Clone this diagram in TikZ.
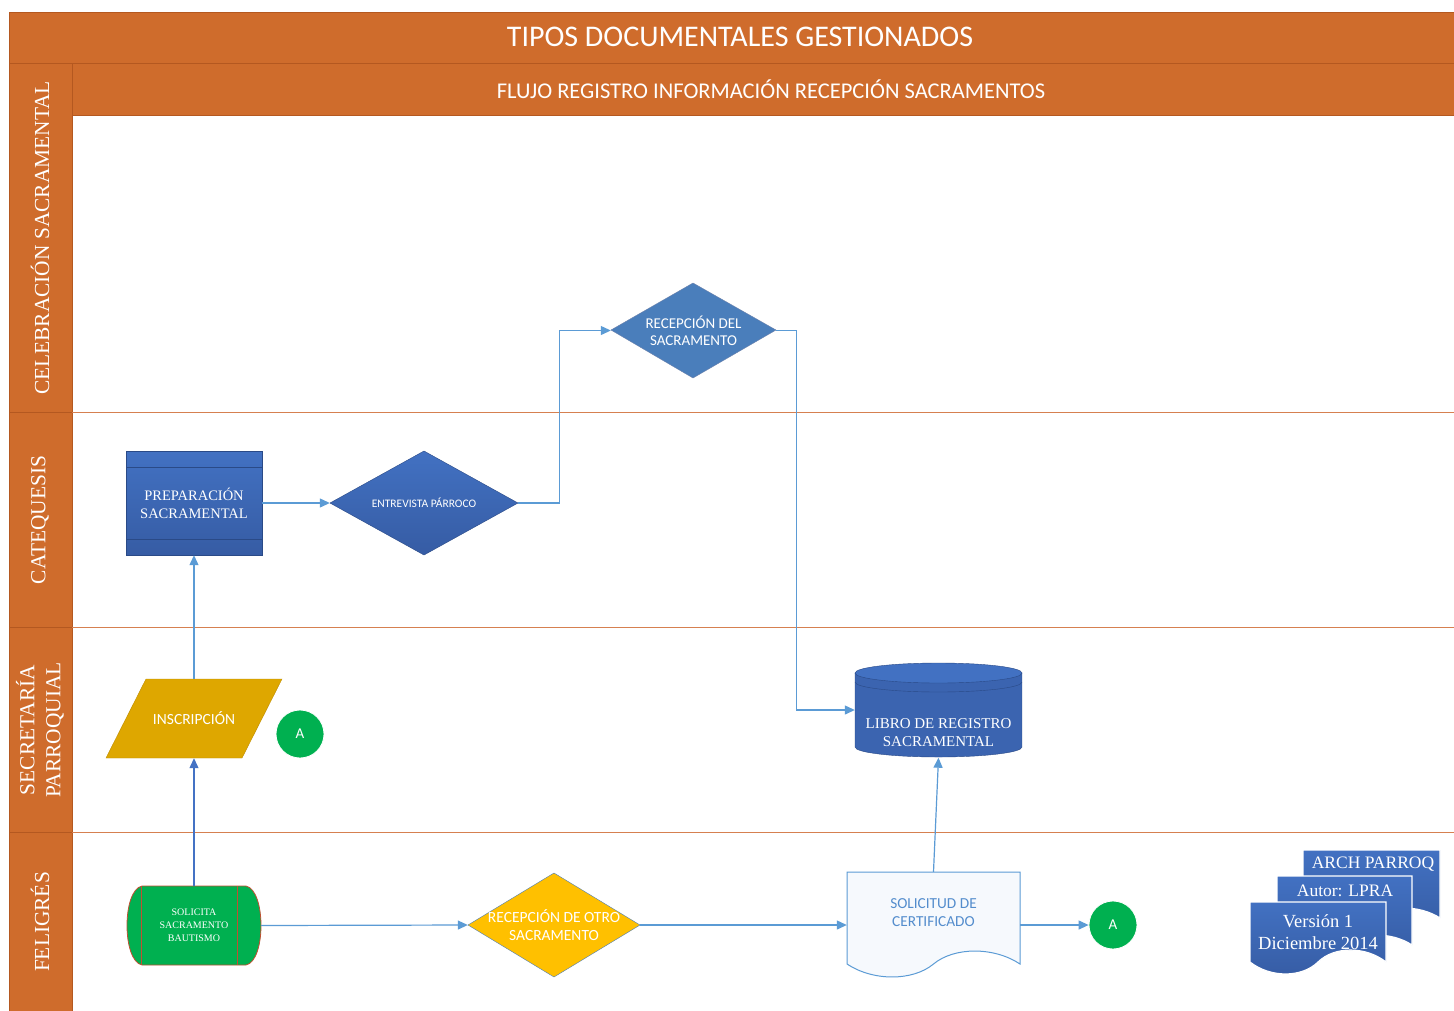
\documentclass[tikz,border=0pt]{standalone}
\usepackage{fontspec}
\setmainfont{Liberation Serif}
\setsansfont{Carlito}
\usetikzlibrary{shapes.geometric, arrows.meta}

\definecolor{naranja}{RGB}{207,108,44}
\definecolor{naranjaosc}{RGB}{180,88,32}
\definecolor{lineacarril}{RGB}{214,128,80}
\definecolor{azulproc}{RGB}{59,100,176}
\definecolor{azulsup}{RGB}{66,113,194}
\definecolor{azulinf}{RGB}{54,92,164}
\definecolor{azulborde}{RGB}{42,74,135}
\definecolor{azulacero}{RGB}{74,126,187}
\definecolor{azulclaro}{RGB}{91,155,213}
\definecolor{azuloscuro}{RGB}{68,114,196}
\definecolor{oro}{RGB}{222,167,0}
\definecolor{oroborde}{RGB}{190,140,0}
\definecolor{amarillo}{RGB}{255,192,0}
\definecolor{verde}{RGB}{0,176,80}
\definecolor{ladrillo}{RGB}{192,80,50}
\definecolor{papel}{RGB}{246,249,253}
\definecolor{textodoc}{RGB}{84,141,205}

\tikzstyle{caja}=[rectangle, inner sep=0, align=center, text=white]
\tikzstyle{titulo}=[text=white, font=\sffamily\fontsize{30}{34}\selectfont]
\tikzstyle{subtitulo}=[text=white, font=\sffamily\fontsize{22.5}{26}\selectfont]
\tikzstyle{carril}=[rotate=90, text=white, align=center, font=\fontsize{21.4}{26}\selectfont]
\tikzstyle{conector}=[circle, minimum size=48pt, inner sep=0, fill=verde, draw=white, thick, text=white, font=\sffamily\fontsize{15}{17}\selectfont]
\tikzstyle{flecha}=[line width=1.2pt, draw=azulclaro, -{Triangle[length=10pt,width=9pt]}]
\tikzstyle{hoja}=[top color=azulsup, bottom color=azulinf, draw=white, line width=1.2pt]
\tikzstyle{azulado}=[top color=azulsup, bottom color=azulinf, draw=azulborde]

% document shape: x0, x1, top, base, amplitude
\newcommand{\hoja}[5]{(#1,#3) -- (#2,#3) -- (#2,#4)
  .. controls ({#2-0.15*(#2-#1)},{#4-1.33*#5}) and ({#1+0.62*(#2-#1)},{#4-1.33*#5}) .. ({(#1+#2)/2},#4)
  .. controls ({#1+0.38*(#2-#1)},{#4+1.33*#5}) and ({#1+0.15*(#2-#1)},{#4+1.33*#5}) .. (#1,#4) -- cycle}

\begin{document}
\begin{tikzpicture}[x=1pt,y=-1pt]
\useasboundingbox (0,0) rectangle (1454,1010);
\fill[white] (0,0) rectangle (1454,1010);

% bands and lanes
\draw[fill=naranja, draw=naranjaosc] (9,12) rectangle (1470,63);
\draw[fill=naranja, draw=naranjaosc] (72,63) rectangle (1470,115);
\draw[fill=naranja, draw=naranjaosc] (9,63) rectangle (72,1020);
\foreach \y in {412,627,832}{
  \draw[lineacarril, line width=1pt] (72,\y) -- (1454,\y);
  \draw[naranjaosc, line width=1pt] (9,\y) -- (72,\y);
}

\node[titulo] (titulo) at (740,37) {TIPOS DOCUMENTALES GESTIONADOS};
\node[subtitulo] (subtitulo) at (771,89) {FLUJO REGISTRO INFORMACIÓN RECEPCIÓN SACRAMENTOS};

\node[carril] (celebracion) at (40,238) {CELEBRACIÓN SACRAMENTAL};
\node[carril] (catequesis) at (40,520) {CATEQUESIS};
\node[carril] (secretaria) at (40,730) {SECRETARÍA\\PARROQUIAL};
\node[carril] (feligres) at (40,922) {FELIGRÉS};

% shapes
\draw[azulado] (126,451) rectangle (262,555);
\draw[azulborde] (126,467) -- (262,467) (126,539) -- (262,539);
\draw[azulado] (330,503) -- (424,451) -- (518,503) -- (424,555) -- cycle;
\draw[fill=azulacero, draw=azulborde!70] (611,330) -- (693,283) -- (776,330) -- (693,378) -- cycle;
\draw[fill=oro, draw=oroborde] (106,758) -- (146,679) -- (282,679) -- (242,758) -- cycle;
\draw[fill=amarillo, draw=azulacero] (468,925) -- (554,873) -- (640,925) -- (554,977) -- cycle;

% cylinder
\fill[azulproc] (855,673) rectangle (1022,747);
\fill[azulproc] (938.5,747) ellipse [x radius=83.5pt, y radius=10pt];
\draw[fill=azulsup, draw=azulborde] (938.5,673) ellipse [x radius=83.5pt, y radius=10pt];
\draw[azulborde] (855,682) arc[start angle=180, end angle=360, x radius=83.5pt, y radius=10pt];
\draw[azulborde] (855,673) -- (855,747) arc[start angle=180, end angle=360, x radius=83.5pt, y radius=10pt] -- (1022,673);

% stored data
\draw[fill=verde, draw=ladrillo, line width=0.8pt] (142,886) -- (246,886)
  .. controls (266,890) and (266,961) .. (246,965) -- (142,965)
  .. controls (122,961) and (122,890) .. (142,886) -- cycle;
\draw[ladrillo, line width=0.8pt] (141,886) -- (141,965) (237,886) -- (237,965);

% documents
\draw[fill=papel, draw=azulclaro, line width=1pt] \hoja{847}{1020}{872}{964}{13};
\draw[hoja] \hoja{1303}{1440}{850}{918}{10};
\draw[hoja] \hoja{1277}{1412}{876}{945}{10};
\draw[hoja] \hoja{1250}{1386}{902}{962}{12};

% nodes
\node[caja, minimum width=136pt, minimum height=104pt, font=\fontsize{14.5}{18}\selectfont] (prep) at (194,503) {PREPARACIÓN\\SACRAMENTAL};
\node[caja, minimum width=188pt, minimum height=104pt, font=\sffamily\fontsize{11.5}{13}\selectfont] (entrevista) at (424,503) {ENTREVISTA PÁRROCO};
\node[caja, minimum width=165pt, minimum height=95pt, font=\sffamily\fontsize{15}{17}\selectfont] (recepsac) at (693.5,330.5) {RECEPCIÓN DEL\\SACRAMENTO};
\node[caja, minimum width=136pt, minimum height=79pt, font=\sffamily\fontsize{15.5}{17}\selectfont] (inscrip) at (194,718.5) {INSCRIPCIÓN};
\node[conector] (conA1) at (300,734) {A};
\node[caja, minimum width=167pt, minimum height=95pt,
  label={[caja, yshift=-23pt, font=\fontsize{15}{18}\selectfont]center:{LIBRO DE REGISTRO\\SACRAMENTAL}}] (libro) at (938.5,710) {};
\node[caja, minimum width=134pt, minimum height=79pt, font=\fontsize{10}{13}\selectfont] (solicita) at (194,925.5) {SOLICITA\\SACRAMENTO\\BAUTISMO};
\node[caja, minimum width=172pt, minimum height=104pt, font=\sffamily\fontsize{15.5}{18}\selectfont] (recepotro) at (554,925) {RECEPCIÓN DE OTRO\\SACRAMENTO};
\node[caja, minimum width=173pt, minimum height=106pt,
  label={[caja, text=textodoc, yshift=12pt, font=\sffamily\fontsize{15.3}{18}\selectfont]center:{SOLICITUD DE\\CERTIFICADO}}] (solicitud) at (933.5,925) {};
\node[conector] (conA2) at (1113,925) {A};

\node[caja, font=\fontsize{17.5}{20}\selectfont] (docarch) at (1373,864) {ARCH PARROQ};
\node[caja, font=\fontsize{17.5}{20}\selectfont] (docautor) at (1345,891) {Autor: LPRA};
\node[caja, font=\fontsize{18.5}{22}\selectfont] (docversion) at (1318,932) {Versión 1\\Diciembre 2014};

% connectors
\draw[flecha] (solicita.east) -- (recepotro.west);
\draw[flecha] (recepotro.east) -- (solicitud.west);
\draw[flecha] (solicitud.east) -- (conA2);
\draw[flecha] (solicitud.north) -- (libro.south);
\draw[flecha, draw=azuloscuro] (solicita.north) -- (inscrip.south);
\draw[flecha] (inscrip.north) -- (prep.south);
\draw[flecha] (prep.east) -- (entrevista.west);
\draw[flecha] (entrevista.east) -- ++(41,0) |- (recepsac.west);
\draw[flecha] (recepsac.east) -- ++(20,0) |- (libro.west);
\end{tikzpicture}
\end{document}
